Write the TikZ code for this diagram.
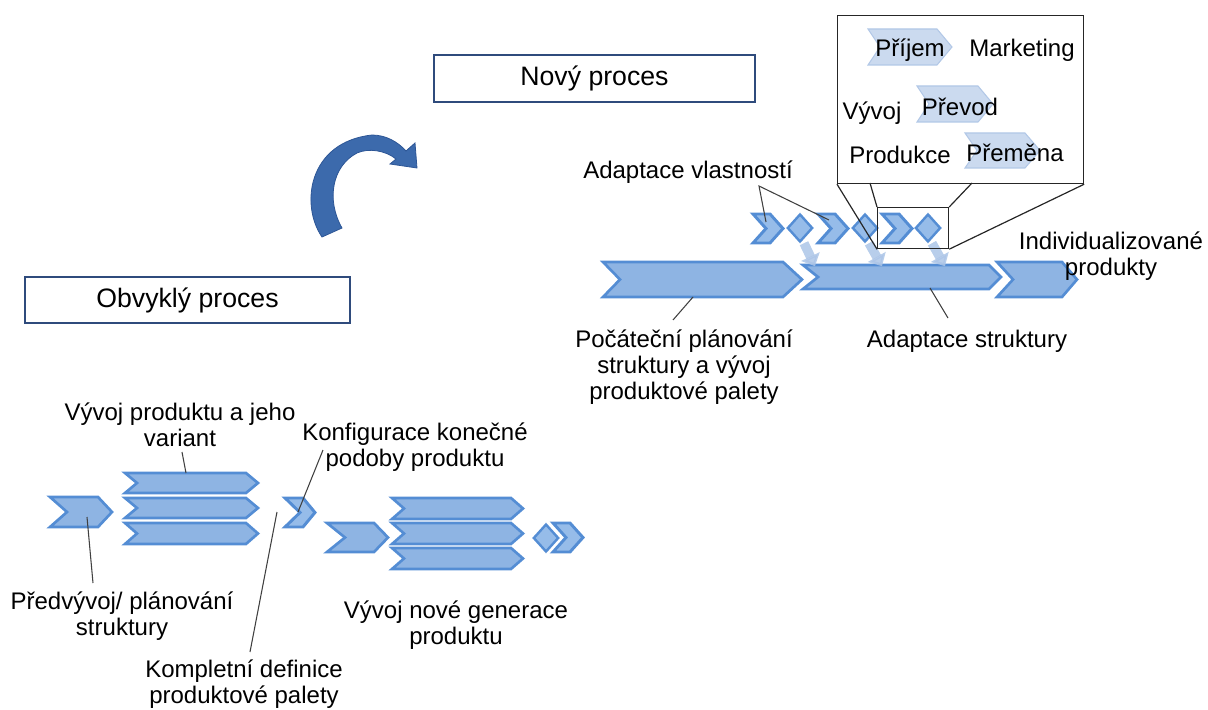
\documentclass[tikz,border=0pt]{standalone}
\usepackage{fontspec}
\setmainfont{Liberation Sans}
\usetikzlibrary{arrows.meta,shapes.geometric}

\definecolor{chevfill}{RGB}{142,180,227}
\definecolor{chevline}{RGB}{84,141,212}
\definecolor{smallfill}{RGB}{150,188,233}
\definecolor{palefill}{RGB}{203,218,239}
\definecolor{paleline}{RGB}{178,200,231}
\definecolor{arrowpale}{RGB}{172,197,231}
\definecolor{boxline}{RGB}{47,75,124}
\definecolor{curvefill}{RGB}{60,106,172}
\definecolor{curveline}{RGB}{45,86,150}

% chevron: [style] {x1}{y1}{x2}{y2}{notch depth}{point depth}
\newcommand\chevron[7][chev]{%
  \draw[#1] (#2,#3) -- ({#4-#7},#3) -- (#4,{(#3+#5)/2}) -- ({#4-#7},#5)
    -- (#2,#5) -- ({#2+#6},{(#3+#5)/2}) -- cycle;}
% deep-notched small chevron: {x1}{y1}{x2}{y2}
\newcommand\dblchevron[4]{%
  \chevron[smallchev]{#1}{#2}{#3}{#4}{13}{13}}

\begin{document}
\begin{tikzpicture}[x=0.75pt,y=-0.75pt,
  chev/.style={fill=chevfill,draw=chevline,line width=2pt,line join=miter},
  smallchev/.style={fill=smallfill,draw=chevline,line width=2.2pt,line join=miter},
  palechev/.style={fill=palefill,draw=paleline,line width=0.8pt},
  diam/.style={diamond,fill=smallfill,draw=chevline,line width=1.8pt,inner sep=0pt,
    minimum width=19pt,minimum height=21pt},
  lbl/.style={font=\fontsize{18}{19.5}\selectfont,align=center,inner sep=0pt},
  titlebox/.style={draw=boxline,line width=2.2pt,fill=white,inner sep=0pt,
    font=\fontsize{20}{22}\selectfont},
  lead/.style={draw=black!75,line width=0.8pt},
  zoomline/.style={draw=black!85,line width=0.9pt},
  palearrow/.style={draw=arrowpale,line width=7pt,opacity=0.85,
    -{Triangle[width=15pt,length=8pt]}},
]
\useasboundingbox (0,0) rectangle (1208,710);

% ---------- title boxes ----------
\node[titlebox,minimum width=240.75pt,minimum height=35.25pt] (newproc) at (594.5,78.5) {Nový proces};
\node[titlebox,minimum width=243.75pt,minimum height=34.5pt] (oldproc) at (187.5,300) {Obvyklý proces};

% ---------- curved arrow ----------
\filldraw[fill=curvefill,draw=curveline,line width=0.6pt]
  (322,237) .. controls (300,205) and (308,142) .. (372,135)
  .. controls (386,135) and (398,142) .. (406,151)
  -- (415,143) -- (417,168) -- (390,164) -- (396,159)
  .. controls (385,150) and (368,148) .. (357,153)
  .. controls (332,166) and (326,200) .. (342,228) -- cycle;

% ---------- usual process ----------
\chevron{50}{497}{112}{527}{17}{14}
\chevron{125}{473}{258}{493}{12}{12}
\chevron{125}{498}{258}{518}{12}{12}
\chevron{125}{523}{258}{544}{12}{12}
\chevron[smallchev]{285}{498}{315}{527}{15}{12}
\chevron{327}{523}{388}{552}{18}{14}
\chevron{392}{498}{523}{519}{12}{12}
\chevron{392}{523}{523}{544}{12}{12}
\chevron{392}{548}{523}{569}{12}{12}
\node[diam] (dlow) at (546,538) {};
\dblchevron{553}{523}{583}{552}

\node[lbl] (vyvprod) at (180,425) {Vývoj produktu a jeho\\variant};
\node[lbl] (konfig) at (415,447) {Konfigurace konečné\\podoby produktu};
\node[lbl] (predvyv) at (122,616) {Předvývoj/ plánování\\struktury};
\node[lbl] (komplet) at (244,684) {Kompletní definice\\produktové palety};
\node[lbl] (novagen) at (456,625) {Vývoj nové generace\\produktu};

\coordinate (vyvprodA) at (182,452); \coordinate (vyvprodB) at (186,473);
\coordinate (konfigA) at (323,450);  \coordinate (konfigB) at (298,512);
\coordinate (predvyvA) at (93,583);  \coordinate (predvyvB) at (87,517);
\coordinate (kompletA) at (250,652); \coordinate (kompletB) at (277,512);
\draw[lead] (vyvprodA) -- (vyvprodB);
\draw[lead] (konfigA) -- (konfigB);
\draw[lead] (predvyvA) -- (predvyvB);
\draw[lead] (kompletA) -- (kompletB);

% ---------- new process ----------
\chevron{603}{262}{802}{297}{17}{19}
\chevron{803}{265}{1001}{289}{15}{12}
\chevron{997}{262}{1077}{297}{16}{15}

\dblchevron{753}{214}{783}{243}
\node[diam] (d1) at (800,228) {};
\dblchevron{818}{214}{848}{243}
\node[diam] (d2) at (865,228) {};
\dblchevron{882}{214}{912}{243}
\node[diam] (d3) at (928,228) {};

\draw[palearrow] ([xshift=3pt]d1.south) -- ++(11,23);
\draw[palearrow] ([xshift=3pt]d2.south) -- ++(13,23);
\draw[palearrow] ([xshift=3pt]d3.south) -- ++(13,23);

\node[lbl] (adaptvl) at (688,172) {Adaptace vlastností};
\node[lbl] (indiv) at (1111,256) {Individualizované\\produkty};
\node[lbl] (pocat) at (684,367) {Počáteční plánování\\struktury a vývoj\\produktové palety};
\node[lbl] (adaptst) at (967,341) {Adaptace struktury};

\coordinate (adaptvlA) at (759,186);
\coordinate (adaptvlB) at (766,222);
\coordinate (adaptvlC) at (829,220);
\draw[lead] (adaptvlB) -- (adaptvlA) -- (adaptvlC);
\coordinate (pocatA) at (673,320); \coordinate (pocatB) at (693,297);
\draw[lead] (pocatA) -- (pocatB);
\coordinate (adaptstA) at (948,318); \coordinate (adaptstB) at (930,288);
\draw[lead] (adaptstA) -- (adaptstB);

% ---------- magnified detail ----------
\node[draw=black!85,line width=0.9pt,fill=white,minimum width=184.5pt,minimum height=126pt,
  inner sep=0pt,anchor=north west] (zoom) at (837,15) {};
\node[draw=black!85,line width=0.9pt,minimum width=53.25pt,minimum height=30.75pt,
  inner sep=0pt,anchor=north west] (lens) at (877,207) {};

\chevron[palechev]{868}{29}{952}{65}{12}{15}
\chevron[palechev]{917}{86}{993}{122}{12}{15}
\chevron[palechev]{965}{133}{1040}{168}{12}{15}
\node[lbl] (prijem) at (910,50) {Příjem};
\node[lbl] (market) at (1022,50) {Marketing};
\node[lbl] (vyvoj) at (872,113) {Vývoj};
\node[lbl] (prevod) at (960,107) {Převod};
\node[lbl] (produkce) at (900,155) {Produkce};
\node[lbl] (premena) at (1015,153) {Přeměna};

\coordinate (zoomA) at (870,183);
\coordinate (zoomB) at (972,183);
\draw[zoomline] (zoom.south west) -- (lens.south west);
\draw[zoomline] (zoomA) -- (lens.north west);
\draw[zoomline] (zoomB) -- (lens.north east);
\draw[zoomline] (zoom.south east) -- (lens.south east);
\end{tikzpicture}
\end{document}
